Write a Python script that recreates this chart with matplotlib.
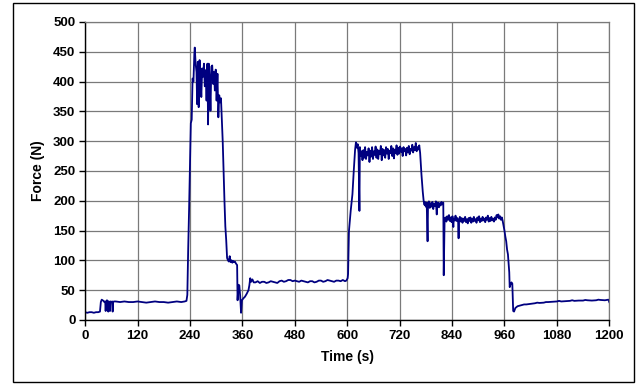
import numpy as np
import matplotlib.pyplot as plt
from matplotlib.patches import Rectangle

# (time s, force N), one list per test phase
idle = [(0, 13), (5, 12), (10, 13), (15, 13), (20, 12), (25, 13), (30, 13), (34, 14),
        (36, 30), (38, 34), (40, 33), (42, 32), (44, 30), (46, 31), (47, 15), (48, 30),
        (50, 33), (52, 31), (53, 14), (54, 31), (56, 30), (57, 15), (58, 31), (60, 30),
        (62, 31), (63, 14), (64, 30), (66, 31), (70, 31), (80, 30), (90, 31), (100, 30),
        (110, 30), (120, 31), (130, 30), (140, 29), (150, 30), (160, 31), (170, 30),
        (180, 30), (190, 29), (200, 30), (210, 31), (220, 30), (228, 31), (232, 32)]

peak = [(234, 42), (236, 120), (238, 185), (240, 260), (242, 330), (244, 336), (246, 405),
        (248, 400), (250, 445), (251, 457), (253, 430), (255, 416), (256.5, 362), (258, 433),
        (260, 357), (262, 436), (264, 410), (266, 374), (268, 422), (270, 408), (272, 430),
        (274, 392), (276, 419), (278, 368), (280, 430), (281.5, 328), (283, 430), (285, 405),
        (287, 351), (289, 425), (291, 427), (293, 396), (295, 416), (297, 385), (299, 420),
        (301, 368), (303, 413), (305, 340), (307, 377), (309, 365), (311, 372), (313, 335),
        (315, 300), (317, 250), (319, 200), (321, 157), (323, 134), (325, 104), (327, 100),
        (329, 98), (331, 107), (333, 97), (335, 100), (337, 96), (339, 99), (341, 97),
        (343, 98), (345, 95), (348, 92), (349, 33), (351, 59), (353, 58), (355, 40),
        (357, 12), (359, 33), (362, 36), (366, 39), (370, 44), (374, 50), (376, 58),
        (378, 70), (380, 64), (383, 68), (386, 63)]

mid = [(390, 63), (395, 65), (400, 62), (405, 64), (410, 64), (415, 62), (420, 63),
       (425, 65), (430, 64), (435, 63), (440, 62), (445, 65), (450, 66), (455, 64),
       (460, 65), (465, 67), (470, 67), (475, 65), (480, 66), (485, 65), (490, 64),
       (495, 66), (500, 65), (505, 64), (510, 63), (515, 65), (520, 65), (525, 63),
       (530, 64), (535, 66), (540, 66), (545, 64), (550, 65), (555, 67), (560, 66),
       (565, 65), (570, 64), (575, 66), (580, 66), (585, 65), (590, 67), (595, 65),
       (598, 66), (601, 70)]

high = [(602, 77), (604, 149), (608, 183), (612, 211), (615, 250), (618, 285), (620, 298),
        (622, 289), (624, 295), (626, 280), (628, 183), (629, 290), (631, 275), (633, 283),
        (635, 268), (637, 285), (639, 272), (641, 290), (643, 270), (645, 282), (647, 276),
        (649, 288), (651, 265), (653, 284), (655, 274), (657, 290), (659, 270), (661, 283),
        (663, 277), (665, 291), (667, 272), (669, 286), (671, 270), (673, 284), (675, 278),
        (677, 292), (679, 268), (681, 287), (683, 276), (685, 285), (687, 272), (689, 290),
        (691, 279), (693, 287), (695, 270), (697, 284), (699, 280), (701, 292), (703, 275),
        (705, 288), (707, 271), (709, 286), (711, 280), (713, 293), (715, 277), (717, 289),
        (719, 279), (721, 291), (723, 282), (725, 288), (727, 275), (729, 290), (731, 283),
        (733, 287), (735, 276), (737, 289), (739, 281), (741, 292), (743, 278), (745, 287),
        (747, 284), (749, 294), (751, 281), (753, 290), (755, 285), (757, 297), (759, 283),
        (761, 290), (763, 286), (765, 293), (767, 280), (770, 244), (773, 215), (775, 200),
        (777, 193), (778, 198)]

step = [(780, 190), (782, 197), (784, 132), (785, 192), (787, 199), (789, 188), (791, 196),
        (793, 190), (795, 198), (797, 186), (799, 195), (801, 191), (803, 199), (805, 177),
        (806, 193), (808, 197), (810, 189), (812, 196), (814, 192), (816, 198), (818, 194),
        (820, 197), (821, 75), (822, 120), (823, 169)]

low = [(825, 172), (827, 165), (829, 174), (831, 168), (833, 176), (835, 166), (837, 172),
       (839, 164), (841, 174), (843, 156), (844, 170), (846, 167), (848, 175), (850, 166),
       (852, 171), (854, 164), (855, 137), (856, 168), (858, 173), (860, 165), (862, 171),
       (864, 163), (866, 170), (868, 166), (870, 173), (872, 164), (874, 169), (876, 162),
       (878, 171), (880, 166), (882, 172), (884, 163), (886, 170), (888, 165), (890, 173),
       (892, 166), (894, 169), (896, 163), (898, 172), (900, 167), (902, 174), (904, 164),
       (906, 170), (908, 166), (910, 173), (912, 167), (914, 170), (916, 164), (918, 172),
       (920, 168), (922, 175), (924, 165), (926, 171), (928, 166), (930, 173), (932, 167),
       (934, 170), (936, 165), (938, 172), (940, 168), (942, 176), (944, 172), (946, 177),
       (948, 170), (950, 174), (952, 168), (954, 172), (956, 166), (958, 158)]

tail = [(960, 150), (962, 140), (964, 132), (966, 118), (968, 110), (970, 89), (971, 80),
        (972, 55), (974, 60), (976, 63), (978, 61), (980, 15), (982, 14), (985, 20),
        (990, 23), (995, 24), (1000, 25), (1005, 26), (1010, 26), (1020, 27), (1030, 28),
        (1035, 29), (1040, 28.5), (1050, 29), (1055, 30), (1060, 30), (1070, 30.5),
        (1080, 31), (1085, 32), (1090, 31), (1100, 31.5), (1110, 32), (1115, 33),
        (1120, 32), (1130, 32.5), (1140, 32.5), (1145, 33.5), (1150, 33), (1160, 32.5),
        (1170, 33), (1175, 34), (1180, 33.5), (1190, 33), (1198, 34), (1200, 30)]

x_ticks = list(range(0, 1201, 120))
y_ticks = list(range(0, 501, 50))

trace = np.array(idle + peak + mid + high + step + low + tail)
time_s, force_n = trace[:, 0], trace[:, 1]

plt.rcParams["font.family"] = ["Liberation Sans", "DejaVu Sans"]
plt.rcParams["font.weight"] = "bold"

fig = plt.figure(figsize=(6.4, 3.85), dpi=100)
ax = fig.add_axes([0.133, 0.169, 0.819, 0.774])

ax.plot(time_s, force_n, color="#000080", linewidth=1.3)

ax.set_xlim(0, 1200)
ax.set_ylim(0, 500)
ax.set_xticks(x_ticks)
ax.set_yticks(y_ticks)
ax.grid(True, color="#7a7a7a", linewidth=0.9)
ax.set_axisbelow(True)
ax.tick_params(direction="out", length=4, width=1, labelsize=9.5, pad=3)
for side in ("top", "right"):
    ax.spines[side].set_color("#7a7a7a")
    ax.spines[side].set_linewidth(0.9)
for side in ("left", "bottom"):
    ax.spines[side].set_color("black")
    ax.spines[side].set_linewidth(1)

ax.set_xlabel("Time (s)", fontsize=10, fontweight="bold", labelpad=6)
ax.set_ylabel("Force (N)", fontsize=10, fontweight="bold", labelpad=6)

fig.patches.append(Rectangle((13 / 640, 3 / 385), 621 / 640, 379 / 385,
                             transform=fig.transFigure, fill=False,
                             edgecolor="black", linewidth=1))

fig.savefig("out.png", dpi=100)
